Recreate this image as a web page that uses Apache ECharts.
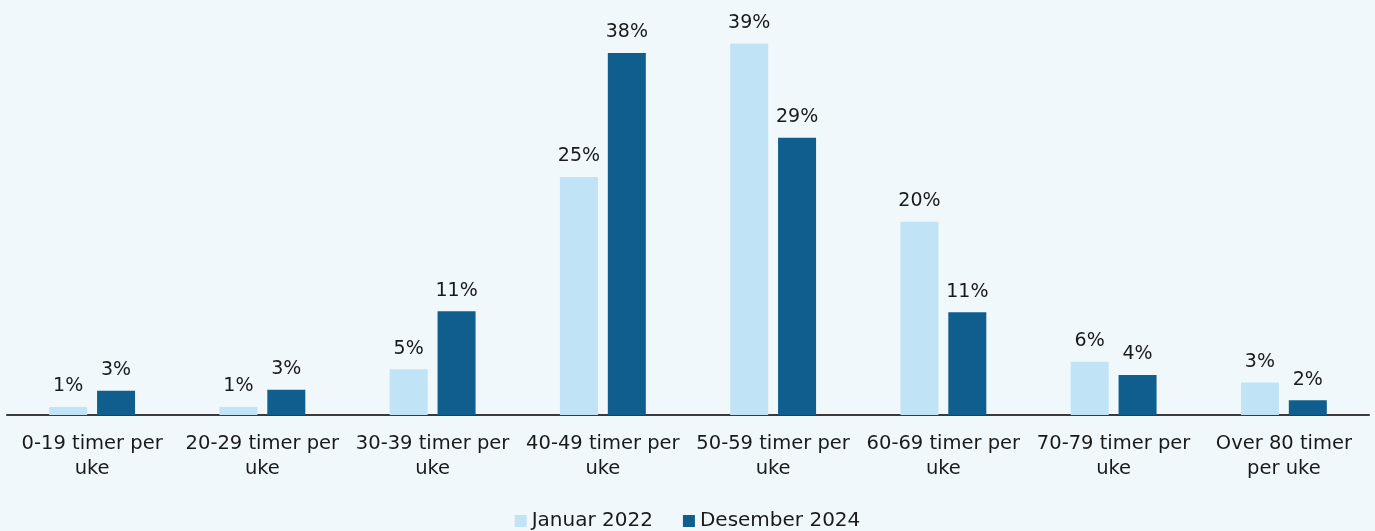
<!DOCTYPE html>
<html>
<head>
<meta charset="utf-8">
<script src="https://cdn.jsdelivr.net/npm/echarts@6/dist/echarts.min.js"></script>
<style>
html,body{margin:0;padding:0;background:#f0f8fc;}
#chart{width:1375px;height:531px;}
</style>
</head>
<body>
<div id="chart"></div>
<script>
const categories = ["0-19 timer per uke","20-29 timer per uke","30-39 timer per uke","40-49 timer per uke","50-59 timer per uke","60-69 timer per uke","70-79 timer per uke","Over 80 timer per uke"];
const seriesNames = ["Januar 2022","Desember 2024"];
const jan2022 = [0.85, 0.85, 4.8, 25.0, 39.0, 20.3, 5.6, 3.4];
const des2024 = [2.55, 2.65, 10.9, 38.0, 29.1, 10.8, 4.2, 1.55];

const FONT = "DejaVu Sans";
const chart = echarts.init(document.getElementById('chart'));
function wrapLabel(name){
  const words = name.split(' ');
  if (name.indexOf('Over') === 0) {
    return words.slice(0, 3).join(' ') + '\n' + words.slice(3).join(' ');
  }
  return words.slice(0, words.length - 1).join(' ') + '\n' + words[words.length - 1];
}
const labelCfg = {
  show: true, position: 'top', distance: 11,
  color: '#1a1a1a', fontFamily: FONT, fontSize: 19,
  formatter: p => Math.round(p.value) + '%'
};
chart.setOption({
  backgroundColor: '#f0f8fc',
  animation: false,
  grid: { left: 7, right: 6, top: 34, bottom: 116, containLabel: false },
  legend: {
    top: 506, left: 'center',
    itemWidth: 12, itemHeight: 12, itemGap: 30, itemTextGap: 5,
    icon: 'rect',
    textStyle: { color: '#1a1a1a', fontFamily: FONT, fontSize: 20 },
    data: seriesNames
  },
  xAxis: {
    type: 'category', data: categories,
    axisLine: { show: true, lineStyle: { color: '#3a3a3a', width: 2 } },
    axisTick: { show: false },
    axisLabel: {
      interval: 0, color: '#1a1a1a', fontFamily: FONT, fontSize: 19.5,
      lineHeight: 25, margin: 16, formatter: wrapLabel
    }
  },
  yAxis: {
    type: 'value', min: 0, max: 40, interval: 10,
    show: false, splitLine: { show: false }
  },
  series: [
    { name: seriesNames[0], type: 'bar', data: jan2022, barWidth: 38, barGap: '26%',
      itemStyle: { color: '#c1e3f6' }, label: labelCfg },
    { name: seriesNames[1], type: 'bar', data: des2024, barWidth: 38,
      itemStyle: { color: '#0f5e8e' }, label: labelCfg }
  ]
});
</script>
</body>
</html>
